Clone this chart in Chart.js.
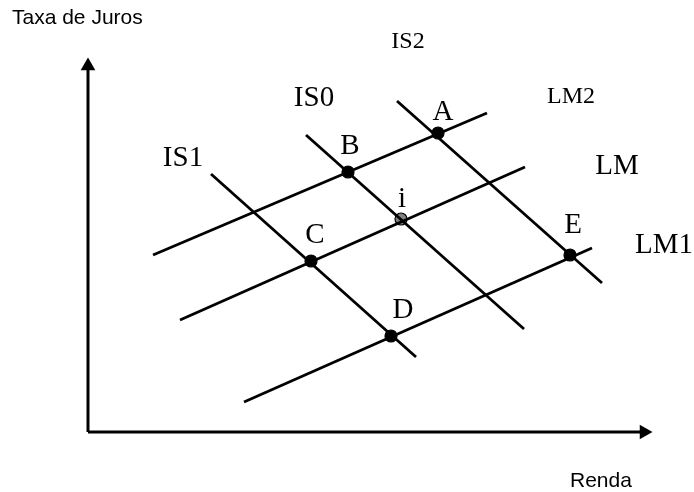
<!DOCTYPE html>
<html>
<head>
<meta charset="utf-8">
<script src="https://cdn.jsdelivr.net/npm/chart.js@4/dist/chart.umd.min.js"></script>
<style>
  body { margin: 0; background: #fff; }
  #wrap { width: 694px; height: 492px; }
</style>
</head>
<body>
<div id="wrap"><canvas id="islm" width="694" height="492"></canvas></div>
<script>
// diagram units: renda (x) and taxa de juros (y), origin at the axes corner
var lmNames = ['LM2', 'LM', 'LM1'];
var lmStart = [[65, 177], [92, 112], [156, 30]];
var lmEnd = [[399, 319], [437, 265], [504, 184]];

var isNames = ['IS1', 'IS0', 'IS2'];
var isStart = [[123, 258], [218, 297], [309, 331]];
var isEnd = [[328, 75], [436, 103], [514, 149]];

var pointNames = ['A', 'B', 'C', 'D', 'E', 'i'];
var pointRenda = [350, 260, 223, 303, 482, 313];
var pointJuros = [299, 260, 171, 96, 177, 213];

// where the names sit
var curveLabels = ['IS2', 'IS0', 'IS1', 'LM2', 'LM', 'LM1'];
var curveLabelX = [320, 226, 95, 483, 529, 576];
var curveLabelY = [390, 334, 274, 335, 266, 187];
var curveLabelSize = [24, 29, 29, 24, 29, 29];
var pointLabelX = [355, 262, 227, 315, 485, 314];
var pointLabelY = [320, 286, 197, 122, 207, 233];

var axisTop = 366;
var axisRight = 556;

var datasets = [];

// axes
datasets.push({
    data: [{x: 0, y: 0}, {x: 0, y: axisTop}],
    borderColor: '#000', borderWidth: 3, pointRadius: 0, showLine: true
});
datasets.push({
    data: [{x: 0, y: 0}, {x: axisRight, y: 0}],
    borderColor: '#000', borderWidth: 3, pointRadius: 0, showLine: true
});
datasets.push({
    data: [{x: 0, y: axisTop}],
    pointStyle: 'triangle', rotation: 0, pointRadius: 8.5,
    backgroundColor: '#000', borderColor: '#000', borderWidth: 0
});
datasets.push({
    data: [{x: axisRight, y: 0}],
    pointStyle: 'triangle', rotation: 90, pointRadius: 8.5,
    backgroundColor: '#000', borderColor: '#000', borderWidth: 0
});

for (var i = 0; i < lmNames.length; i++) {
    datasets.push({
        label: lmNames[i],
        data: [{x: lmStart[i][0], y: lmStart[i][1]}, {x: lmEnd[i][0], y: lmEnd[i][1]}],
        borderColor: '#000', borderWidth: 2.8, pointRadius: 0, showLine: true
    });
}
for (var i = 0; i < isNames.length; i++) {
    datasets.push({
        label: isNames[i],
        data: [{x: isStart[i][0], y: isStart[i][1]}, {x: isEnd[i][0], y: isEnd[i][1]}],
        borderColor: '#000', borderWidth: 2.8, pointRadius: 0, showLine: true
    });
}

var pts = [];
var fills = [];
for (var i = 0; i < pointNames.length; i++) {
    pts.push({x: pointRenda[i], y: pointJuros[i]});
    fills.push(pointNames[i] == 'i' ? '#808080' : '#000');
}
datasets.push({
    label: 'pontos',
    data: pts,
    pointStyle: 'circle',
    pointRadius: 6,
    backgroundColor: fills,
    borderColor: '#000',
    borderWidth: 1.2
});

var labelPlugin = {
    id: 'labels',
    afterDatasetsDraw: function(chart) {
        var ctx = chart.ctx;
        var x = chart.scales.x;
        var y = chart.scales.y;
        ctx.save();
        ctx.fillStyle = '#000';
        ctx.textAlign = 'center';
        ctx.textBaseline = 'middle';
        for (var i = 0; i < curveLabels.length; i++) {
            ctx.font = curveLabelSize[i] + 'px "Liberation Serif", "Times New Roman", serif';
            ctx.fillText(curveLabels[i], x.getPixelForValue(curveLabelX[i]), y.getPixelForValue(curveLabelY[i]));
        }
        ctx.font = '29px "Liberation Serif", "Times New Roman", serif';
        for (var i = 0; i < pointNames.length; i++) {
            ctx.fillText(pointNames[i], x.getPixelForValue(pointLabelX[i]), y.getPixelForValue(pointLabelY[i]));
        }
        // axis titles
        ctx.font = '21px "Liberation Sans", Arial, sans-serif';
        ctx.textAlign = 'left';
        ctx.fillText('Taxa de Juros', 12, 18);
        ctx.fillText('Renda', 570, 481);
        ctx.restore();
    }
};

new Chart(document.getElementById('islm'), {
    type: 'scatter',
    data: { datasets: datasets },
    options: {
        responsive: false,
        animation: false,
        layout: { padding: 0, autoPadding: false },
        plugins: { legend: { display: false }, tooltip: { enabled: false } },
        scales: {
            x: { type: 'linear', display: false, min: -88, max: 606 },
            y: { type: 'linear', display: false, min: -60, max: 432 }
        }
    },
    plugins: [labelPlugin]
});
</script>
</body>
</html>
